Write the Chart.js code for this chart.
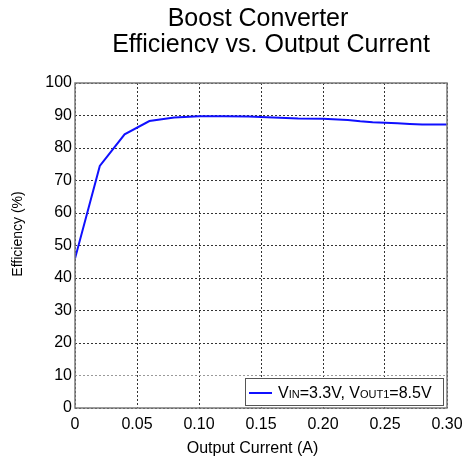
<!DOCTYPE html>
<html>
<head>
<meta charset="utf-8">
<script src="https://cdn.jsdelivr.net/npm/chart.js@4/dist/chart.umd.min.js"></script>
<style>
  html, body { margin: 0; padding: 0; background: #fff; }
  #wrap { width: 464px; height: 464px; }
</style>
</head>
<body>
<div id="wrap"><canvas id="c" width="464" height="464"></canvas></div>
<script>
// Output current (A) and measured efficiency (%)
const currentA = [0, 0.02, 0.04, 0.06, 0.08, 0.10, 0.12, 0.14, 0.16, 0.18, 0.20, 0.22, 0.23, 0.24, 0.26, 0.27, 0.28, 0.30];
const efficiency = [46, 74.5, 84.2, 88.3, 89.4, 89.8, 89.8, 89.7, 89.4, 89.1, 89.0, 88.6, 88.2, 87.9, 87.6, 87.4, 87.2, 87.2];

const titleLines = ['Boost Converter', 'Efficiency vs. Output Current'];
const xTitle = 'Output Current (A)';
const yTitle = 'Efficiency (%)';
// legend text pieces: [text, isSubscript]
const legendParts = [['V', false], ['IN', true], ['=3.3V, V', false], ['OUT1', true], ['=8.5V', false]];

const FONT = '"Liberation Sans", Arial, Helvetica, sans-serif';

const decorations = {
  id: 'decorations',
  afterDraw(chart) {
    const ctx = chart.ctx;
    const a = chart.chartArea;
    ctx.save();

    // axes box
    ctx.strokeStyle = '#7a7a7a';
    ctx.lineWidth = 1.5;
    ctx.setLineDash([]);
    ctx.strokeRect(a.left, a.top, a.right - a.left, a.bottom - a.top);

    // title (second line trimmed at its baseline)
    ctx.fillStyle = '#000';
    ctx.textAlign = 'center';
    ctx.textBaseline = 'alphabetic';
    ctx.font = '25px ' + FONT;
    ctx.fillText(titleLines[0], a.left + 183, 26);
    ctx.save();
    ctx.beginPath();
    ctx.rect(0, 0, 464, 53);
    ctx.clip();
    ctx.fillText(titleLines[1], a.left + 196, 52);
    ctx.restore();

    // axis titles
    ctx.font = '16px ' + FONT;
    ctx.textBaseline = 'middle';
    ctx.fillText(xTitle, a.left + 177.5, 449);
    ctx.save();
    ctx.translate(18, 234);
    ctx.rotate(-Math.PI / 2);
    ctx.font = '14px ' + FONT;
    ctx.fillText(yTitle, 0, 0);
    ctx.restore();

    // legend box
    const bx = a.right - 202, by = a.bottom - 30, bw = 198, bh = 27;
    ctx.fillStyle = '#fff';
    ctx.fillRect(bx, by, bw, bh);
    ctx.strokeStyle = '#555';
    ctx.lineWidth = 1;
    ctx.strokeRect(bx + 0.5, by + 0.5, bw, bh);
    const ds = chart.data.datasets[0];
    ctx.strokeStyle = ds.borderColor;
    ctx.lineWidth = 2;
    ctx.beginPath();
    ctx.moveTo(bx + 4, by + 15);
    ctx.lineTo(bx + 27, by + 15);
    ctx.stroke();
    let tx = bx + 33;
    const base = by + 20;
    ctx.fillStyle = '#000';
    ctx.textAlign = 'left';
    ctx.textBaseline = 'alphabetic';
    legendParts.forEach(([t, sub]) => {
      ctx.font = (sub ? '11px ' : '16px ') + FONT;
      ctx.fillText(t, tx, base);
      tx += ctx.measureText(t).width;
    });

    ctx.restore();
  }
};

new Chart(document.getElementById('c'), {
  type: 'line',
  data: {
    datasets: [{
      label: 'VIN=3.3V, VOUT1=8.5V',
      data: currentA.map((x, i) => ({ x, y: efficiency[i] })),
      borderColor: '#1010ff',
      borderWidth: 2,
      pointRadius: 0,
      tension: 0,
      fill: false
    }]
  },
  options: {
    responsive: false,
    animation: false,
    devicePixelRatio: 1,
    layout: { padding: { top: 83, right: 17, left: 0, bottom: 0 } },
    plugins: {
      legend: { display: false },
      title: { display: false },
      tooltip: { enabled: false }
    },
    scales: {
      x: {
        type: 'linear',
        min: 0,
        max: 0.3,
        afterFit(s) { s.height = 56; s.paddingLeft = 0; s.paddingRight = 0; },
        ticks: {
          stepSize: 0.05,
          color: '#000',
          padding: 7,
          maxRotation: 0,
          font: { family: FONT, size: 16 },
          callback: v => (Math.abs(v) < 1e-9 ? '0' : v.toFixed(2))
        },
        grid: {
          color: '#333',
          lineWidth: 1,
          drawTicks: false
        },
        border: { display: false, dash: [2, 2] }
      },
      y: {
        min: 0,
        max: 100,
        afterFit(s) { s.width = 75; s.paddingTop = 0; s.paddingBottom = 0; },
        ticks: {
          stepSize: 10,
          color: '#000',
          padding: 3,
          font: { family: FONT, size: 16 }
        },
        grid: {
          color: ctx => (ctx.tick && ctx.tick.value === 10 ? '#9a9a9a' : '#333'),
          lineWidth: 1,
          drawTicks: false
        },
        border: { display: false, dash: [2, 2] }
      }
    }
  },
  plugins: [decorations]
});
</script>
</body>
</html>
